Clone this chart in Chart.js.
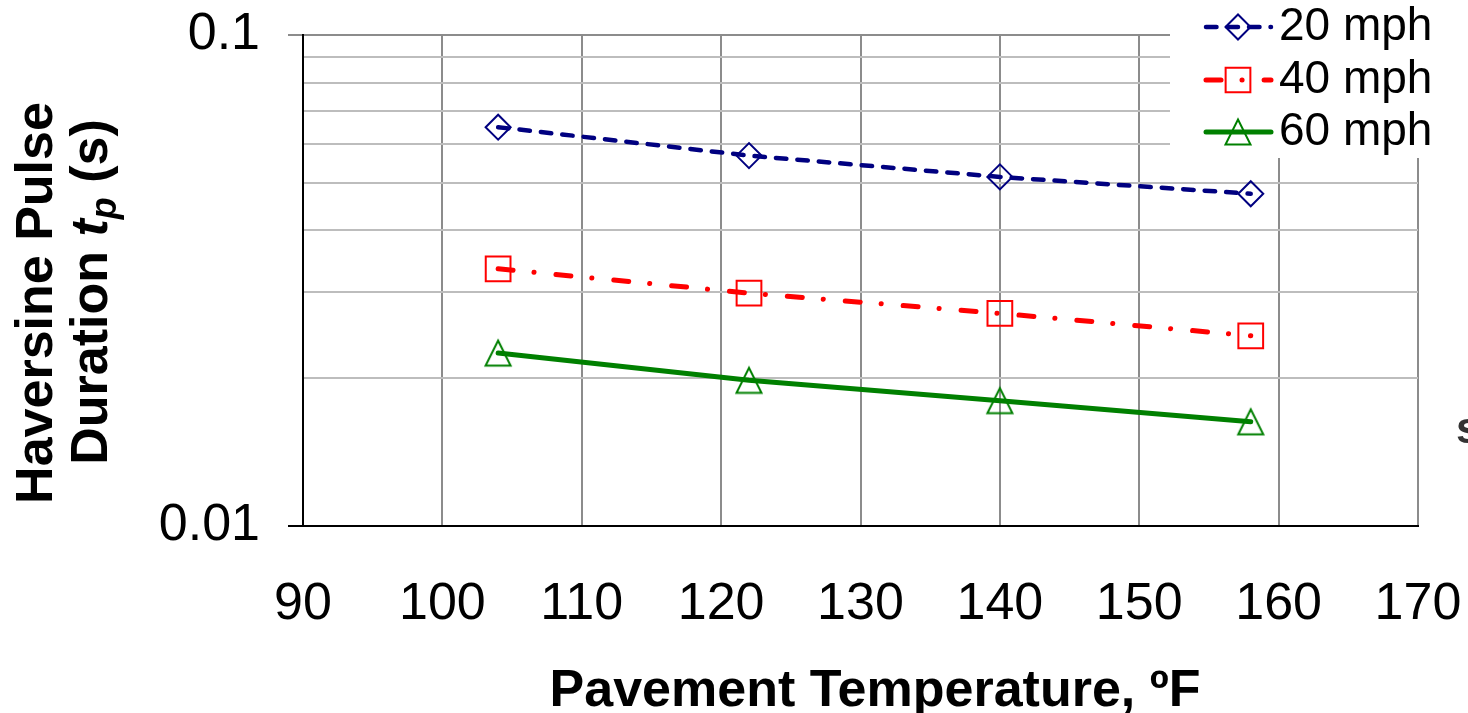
<!DOCTYPE html>
<html>
<head>
<meta charset="utf-8">
<title>Haversine Pulse Duration</title>
<script src="https://cdn.jsdelivr.net/npm/chart.js@4.4.1/dist/chart.umd.min.js"></script>
<style>
    html, body { margin: 0; padding: 0; background: #fff; }
    #wrap { width: 1468px; height: 713px; position: relative; }
</style>
</head>
<body>
<div id="wrap"><canvas id="pulse-chart"></canvas></div>
<script>
// pavement temperature (ºF) and pulse duration tp (s) per vehicle speed
const temperatures = [104, 122, 140, 158];
const pulse20mph = [0.0649, 0.0568, 0.0514, 0.0475];
const pulse40mph = [0.0334, 0.0298, 0.0271, 0.0244];
const pulse60mph = [0.0225, 0.0198, 0.0180, 0.0163];
const seriesLabels = ['20 mph', '40 mph', '60 mph'];

// axis ticks
const xTickValues = [90, 100, 110, 120, 130, 140, 150, 160, 170];
const yTickValues = [0.01, 0.02, 0.03, 0.04, 0.05, 0.06, 0.07, 0.08, 0.09, 0.1];
const yTickLabels = { '0.01': '0.01', '0.1': '0.1' };

const FONT = "'Liberation Sans', Arial, Helvetica, sans-serif";

// open triangle marker, centred on the point
function makeTriangle(color) {
    const c = document.createElement('canvas');
    c.width = 32;
    c.height = 32;
    const g = c.getContext('2d');
    g.strokeStyle = color;
    g.lineWidth = 2;
    g.beginPath();
    g.moveTo(16, 3.5);
    g.lineTo(28.5, 28.5);
    g.lineTo(3.5, 28.5);
    g.closePath();
    g.stroke();
    return c;
}

function toPoints(values) {
    return values.map((v, i) => ({ x: temperatures[i], y: v }));
}

const datasets = [
    {
        label: seriesLabels[0],
        data: toPoints(pulse20mph),
        borderColor: '#000080',
        borderWidth: 4.5,
        borderDash: [10.5, 11],
        borderCapStyle: 'round',
        pointStyle: 'rectRot',
        pointRadius: 12.5,
        pointBorderWidth: 2,
        pointBorderColor: '#000080',
        pointBackgroundColor: 'rgba(0,0,0,0)'
    },
    {
        label: seriesLabels[1],
        data: toPoints(pulse40mph),
        borderColor: '#ff0000',
        borderWidth: 5,
        borderDash: [15, 21, 0.1, 22],
        borderCapStyle: 'round',
        pointStyle: 'rect',
        pointRadius: 17.5,
        pointBorderWidth: 2,
        pointBorderColor: '#ff0000',
        pointBackgroundColor: 'rgba(0,0,0,0)'
    },
    {
        label: seriesLabels[2],
        data: toPoints(pulse60mph),
        borderColor: '#008000',
        borderWidth: 5,
        borderCapStyle: 'round',
        pointStyle: makeTriangle('#008000'),
        pointRadius: 14,
        pointBorderWidth: 2,
        pointBorderColor: '#008000',
        pointBackgroundColor: 'rgba(0,0,0,0)'
    }
];

// legend, axis titles and the stray letter at the right edge
const decorations = {
    id: 'decorations',
    afterDraw(chart) {
        const ctx = chart.ctx;
        ctx.save();

        // legend box over the top right corner of the plot
        ctx.fillStyle = '#ffffff';
        ctx.fillRect(1170, 0, 298, 158);
        const rows = [27, 80, 132];
        chart.data.datasets.forEach((ds, i) => {
            const y = rows[i];
            ctx.save();
            ctx.strokeStyle = ds.borderColor;
            ctx.lineWidth = ds.borderWidth;
            ctx.lineCap = 'round';
            ctx.setLineDash(ds.borderDash || []);
            ctx.beginPath();
            ctx.moveTo(1206, y);
            ctx.lineTo(1271, y);
            ctx.stroke();
            ctx.restore();

            ctx.save();
            ctx.strokeStyle = ds.pointBorderColor;
            ctx.fillStyle = 'rgba(0,0,0,0)';
            ctx.lineWidth = ds.pointBorderWidth;
            Chart.helpers.drawPoint(ctx, {
                pointStyle: ds.pointStyle,
                radius: ds.pointRadius,
                rotation: 0,
                borderWidth: ds.pointBorderWidth
            }, 1238, y);
            ctx.restore();

            ctx.fillStyle = '#000';
            ctx.font = `46px ${FONT}`;
            ctx.textAlign = 'left';
            ctx.textBaseline = 'middle';
            ctx.fillText(ds.label, 1279, y);
        });

        // x axis title
        ctx.fillStyle = '#000';
        ctx.font = `bold 52px ${FONT}`;
        ctx.textAlign = 'center';
        ctx.textBaseline = 'alphabetic';
        ctx.fillText('Pavement Temperature, ºF', 875, 706);

        // y axis title, two rotated lines
        ctx.save();
        ctx.translate(52, 303);
        ctx.rotate(-Math.PI / 2);
        ctx.fillText('Haversine Pulse', 0, 0);
        ctx.restore();

        const parts = [
            { text: 'Duration ', font: `bold 52px ${FONT}`, dy: 0 },
            { text: 't', font: `italic bold 52px ${FONT}`, dy: 0 },
            { text: 'p', font: `italic bold 36px ${FONT}`, dy: 9 },
            { text: ' (s)', font: `bold 52px ${FONT}`, dy: 0 }
        ];
        let total = 0;
        parts.forEach(p => {
            ctx.font = p.font;
            p.w = ctx.measureText(p.text).width;
            total += p.w;
        });
        ctx.save();
        ctx.translate(107, 292);
        ctx.rotate(-Math.PI / 2);
        ctx.textAlign = 'left';
        let px = -total / 2;
        parts.forEach(p => {
            ctx.font = p.font;
            ctx.fillText(p.text, px, p.dy);
            px += p.w;
        });
        ctx.restore();

        ctx.fillStyle = '#333';
        ctx.font = `bold 44px ${FONT}`;
        ctx.textAlign = 'left';
        ctx.fillText('s', 1456, 443);

        ctx.restore();
    }
};

const chart = new Chart(document.getElementById('pulse-chart'), {
    type: 'line',
    data: { datasets },
    options: {
        responsive: true,
        maintainAspectRatio: false,
        animation: false,
        layout: {
            padding: { left: 0, right: 50, top: 35, bottom: 0 }
        },
        plugins: {
            legend: { display: false },
            tooltip: { enabled: false }
        },
        scales: {
            x: {
                type: 'linear',
                min: 90,
                max: 170,
                afterBuildTicks: scale => {
                    scale.ticks = xTickValues.map(v => ({ value: v }));
                },
                afterFit: scale => {
                    // plot edges are set by the layout padding alone
                    scale.height = 187;
                    scale.paddingLeft = 0;
                    scale.paddingRight = 0;
                },
                grid: {
                    color: '#8c8c8c',
                    lineWidth: 2,
                    drawTicks: false
                },
                border: { display: true, color: '#000', width: 2 },
                ticks: {
                    autoSkip: false,
                    maxRotation: 0,
                    padding: 47,
                    color: '#000',
                    font: { family: FONT, size: 52 }
                },
                title: { display: false }
            },
            y: {
                type: 'logarithmic',
                min: 0.01,
                max: 0.1,
                afterBuildTicks: scale => {
                    scale.ticks = yTickValues.map(v => ({ value: v }));
                },
                afterFit: scale => {
                    scale.width = 303;
                    scale.paddingTop = 0;
                    scale.paddingBottom = 0;
                },
                grid: {
                    color: ctx => (ctx.tick && ctx.tick.value === 0.1 ? '#8c8c8c' : '#bdbdbd'),
                    lineWidth: 2,
                    drawTicks: true,
                    tickLength: 15,
                    tickColor: ctx => {
                        if (!ctx.tick) return 'rgba(0,0,0,0)';
                        if (ctx.tick.value === 0.01) return '#000';
                        if (ctx.tick.value === 0.1) return '#8c8c8c';
                        return 'rgba(0,0,0,0)';
                    }
                },
                border: { display: true, color: '#000', width: 2 },
                ticks: {
                    autoSkip: false,
                    padding: 28,
                    color: '#000',
                    font: { family: FONT, size: 52 },
                    callback: value => yTickLabels[String(value)] || ''
                },
                title: { display: false }
            }
        }
    },
    plugins: [decorations]
});
</script>
</body>
</html>
